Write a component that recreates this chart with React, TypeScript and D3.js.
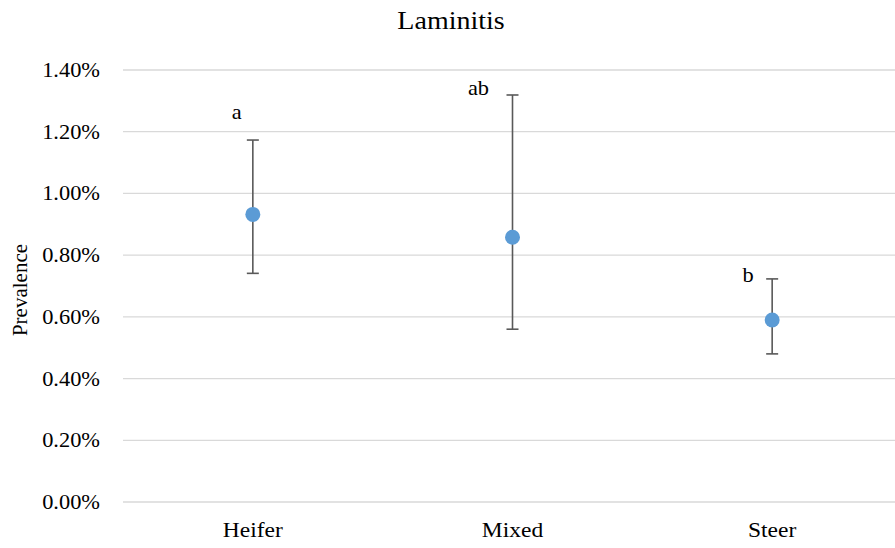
import React from "react";
import * as d3 from "d3";

const categories = ["Heifer", "Mixed", "Steer"];
const meanValues = [0.932, 0.858, 0.59];
const upperValues = [1.173, 1.319, 0.723];
const lowerValues = [0.741, 0.56, 0.48];
const letters = ["a", "ab", "b"];
const letterValues = [1.241, 1.319, 0.713];
const yTicks = [0, 0.2, 0.4, 0.6, 0.8, 1.0, 1.2, 1.4];
const title = "Laminitis";
const yLabel = "Prevalence";

const W = 895;
const H = 548;
const left = 123;
const right = 902;
const top = 70;
const bottom = 502;
const letterDx = [-16, -34, -24];
const SX = 1.12;
const font = "'Liberation Serif', 'Times New Roman', serif";

export default function App() {
  const x = d3.scalePoint<string>().domain(categories).range([left, right]).padding(0.5);
  const y = d3.scaleLinear().domain([0, 1.4]).range([bottom, top]);
  const fmt = (v: number) => d3.format(".2f")(v) + "%";

  return (
    <svg width={W} height={H} style={{ position: "absolute", left: 0, top: 0, background: "#fff" }} fontFamily={font}>
      <rect x={0} y={0} width={W} height={H} fill="#fff" />
      <text transform={`translate(451,29) scale(${SX},1)`} textAnchor="middle" fontSize={25} fill="#000">
        {title}
      </text>
      {yTicks.map((t) => (
        <g key={t}>
          <line x1={left} x2={W} y1={y(t)} y2={y(t)} stroke="#d9d9d9" strokeWidth={1.3} />
          <text transform={`translate(100,${y(t)}) scale(${SX},1)`} textAnchor="end" dy="0.35em" fontSize={20} fill="#000">
            {fmt(t)}
          </text>
        </g>
      ))}
      <text transform={`translate(27,290) rotate(-90)`} textAnchor="middle" fontSize={21} fill="#000">
        {yLabel}
      </text>
      {categories.map((c) => (
        <text key={c} transform={`translate(${x(c)},537) scale(${SX},1)`} textAnchor="middle" fontSize={21} fill="#000">
          {c}
        </text>
      ))}
      {categories.map((c, i) => {
        const cx = x(c) as number;
        return (
          <g key={c}>
            <line x1={cx} x2={cx} y1={y(upperValues[i])} y2={y(lowerValues[i])} stroke="#595959" strokeWidth={1.6} />
            <line x1={cx - 6} x2={cx + 6} y1={y(upperValues[i])} y2={y(upperValues[i])} stroke="#595959" strokeWidth={1.6} />
            <line x1={cx - 6} x2={cx + 6} y1={y(lowerValues[i])} y2={y(lowerValues[i])} stroke="#595959" strokeWidth={1.6} />
            <circle cx={cx} cy={y(meanValues[i])} r={7.5} fill="#5b9bd5" />
            <text transform={`translate(${cx + letterDx[i]},${y(letterValues[i])}) scale(${SX},1)`} textAnchor="middle" fontSize={20} fill="#000">
              {letters[i]}
            </text>
          </g>
        );
      })}
    </svg>
  );
}
